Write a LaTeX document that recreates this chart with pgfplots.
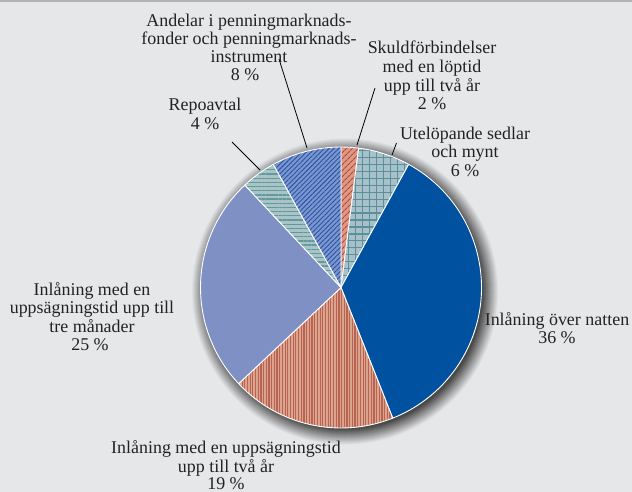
\documentclass[border=0pt]{standalone}
\usepackage{pgfplots}
\pgfplotsset{compat=1.18}
\usepackage{fontspec}
\setmainfont{Liberation Serif}
\usetikzlibrary{patterns.meta}

\definecolor{bgcol}{HTML}{E6E7E9}
\definecolor{topline}{HTML}{B3B3B3}
\definecolor{shadowcol}{HTML}{4A4A4A}
\definecolor{darkblue}{HTML}{0052A0}
\definecolor{lightblue}{HTML}{7F91C4}
\definecolor{andbase}{HTML}{7F95CD}
\definecolor{andline}{HTML}{2156A8}
\definecolor{skbase}{HTML}{DC9A86}
\definecolor{skline}{HTML}{B5473A}
\definecolor{utbase}{HTML}{A8C0C8}
\definecolor{utline}{HTML}{5B8F9D}
\definecolor{repobase}{HTML}{A8C4C6}
\definecolor{repoline}{HTML}{63989E}
\definecolor{twobase}{HTML}{DBA28D}
\definecolor{twoline}{HTML}{B86452}
\definecolor{txt}{HTML}{222222}

\newcommand{\R}{140.5bp}
% #1 cumulative start (percent), #2 share (percent), #3 style
\newcommand{\pieslice}[3]{%
  \filldraw[#3, draw=white, line width=0.9pt, line join=round]
    (axis cs:0,0) -- ++({90-3.6*(#1)}:\R)
    arc[start angle={90-3.6*(#1)}, delta angle={-3.6*(#2)}, radius=\R] -- cycle;}

\begin{document}
\begin{tikzpicture}
\begin{scope}[x=1bp,y=-1bp]
\fill[bgcol] (0,0) rectangle (632,492);
\path[use as bounding box] (0,0) rectangle (632,492);
\fill[topline] (0,0) rectangle (632,2.5);
% shadow
\foreach \k [evaluate=\k as \p using int(\k*100/16)] in {0,...,16}{
  \fill[shadowcol!\p!bgcol] (345,291.5) circle[radius={154-\k}];
}
\end{scope}

\begin{axis}[
  hide axis, x=1bp, y=1bp,
  xmin=-160, xmax=160, ymin=-160, ymax=160,
  clip=false, at={(341bp,-287.5bp)}, anchor=center,
]
% start, share
\pieslice{0}{2}{preaction={fill=skbase}, pattern={Lines[angle=45,distance=4pt,line width=1pt]}, pattern color=skline}
\pieslice{2}{6}{preaction={fill=utbase}, pattern={Hatch[angle=0,distance=7pt,line width=1.1pt]}, pattern color=utline}
\pieslice{8}{36}{fill=darkblue}
\pieslice{44}{19}{preaction={fill=twobase}, pattern={Lines[angle=90,distance=2.7pt,line width=1.2pt]}, pattern color=twoline}
\pieslice{63}{25}{fill=lightblue}
\pieslice{88}{4}{preaction={fill=repobase}, pattern={Lines[angle=0,distance=4.2pt,line width=1.3pt]}, pattern color=repoline}
\pieslice{92}{8}{preaction={fill=andbase}, pattern={Lines[angle=45,distance=3.4pt,line width=0.9pt]}, pattern color=andline}
\end{axis}

\begin{scope}[x=1bp,y=-1bp]
% leader lines
\draw[black, line width=0.8pt] (279,59) -- (307,148);
\draw[black, line width=0.8pt] (375,88) -- (357,145);
\draw[black, line width=0.8pt] (396.5,143) -- (392,155);
\draw[black, line width=0.8pt] (232,142) -- (260,170);

% labels
\tikzset{lab/.style={anchor=base, inner sep=0pt, text=txt, font=\fontsize{18}{19}\selectfont}}
\node[lab] at (249,27) {Andelar i penningmarknads-};
\node[lab] at (249,45) {fonder och penningmarknads-};
\node[lab] at (249,63) {instrument};
\node[lab] at (245,81) {8 \%};

\node[lab] at (432,54) {Skuldförbindelser};
\node[lab] at (432,73) {med en löptid};
\node[lab] at (432,92) {upp till två år};
\node[lab] at (432,110) {2 \%};

\node[lab] at (465,140) {Utelöpande sedlar};
\node[lab] at (465,158) {och mynt};
\node[lab] at (465,177) {6 \%};

\node[lab] at (205,111) {Repoavtal};
\node[lab] at (205,130) {4 \%};

\node[lab] at (92,295) {Inlåning med en};
\node[lab] at (92,313) {uppsägningstid upp till};
\node[lab] at (92,332) {tre månader};
\node[lab] at (90,350) {25 \%};

\node[lab] at (557,325) {Inlåning över natten};
\node[lab] at (557,343) {36 \%};

\node[lab] at (226,453) {Inlåning med en uppsägningstid};
\node[lab] at (226,472) {upp till två år};
\node[lab] at (226,489) {19 \%};
\end{scope}
\end{tikzpicture}
\end{document}
